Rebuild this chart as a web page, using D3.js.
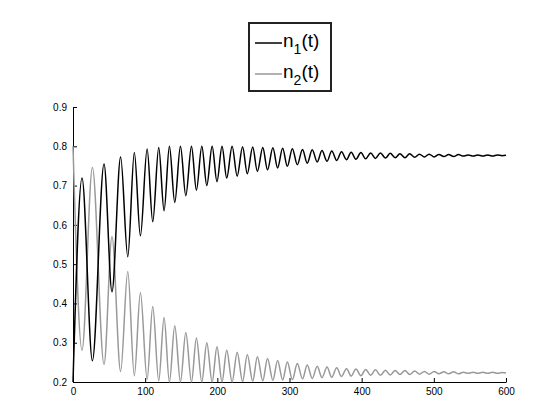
<!DOCTYPE html>
<html>
<head>
<meta charset="utf-8">
<style>
body { margin: 0; background: white; }
text { font-family: "Liberation Sans", Arial, sans-serif; }
.axis path, .axis line { stroke: black; stroke-width: 1px; }
.axis text { font-size: 10px; fill: black; }
.series { fill: none; stroke-width: 1.5px; }
</style>
</head>
<body>
<script src="https://cdn.jsdelivr.net/npm/d3@7"></script>
<script>
// time of each peak / trough
var times = [0, 12.5, 26.9, 43, 54, 66, 75.9, 85, 93.4, 102.7, 110.5, 118.8, 126.2, 133.6, 141,
  148.9, 156.3, 164.2, 171, 178.5, 185.4, 192.8, 199.5, 206.5, 213, 220.5, 227.5, 235, 241.5,
  249, 255.5, 263, 269.5, 277, 283.5, 290.5, 297, 304, 310.8, 318, 324.6, 331.5, 338.4, 345,
  352, 358.5, 365.5, 372, 379, 385.5, 392, 399, 405.5, 412.5, 419, 426, 433, 439.5, 446.5,
  453, 460, 466.5, 473.5, 480, 487, 493.5, 500.5, 507, 514, 520.5, 527.5, 534, 541, 547.5,
  554.5, 561, 568, 574.5, 581.5, 588, 594.5, 600];

var n1 = [0.20, 0.719, 0.254, 0.755, 0.430, 0.773, 0.519, 0.784, 0.572, 0.793, 0.608, 0.797, 0.636,
  0.800, 0.657, 0.800, 0.674, 0.800, 0.688, 0.800, 0.700, 0.800, 0.710, 0.800, 0.719, 0.800,
  0.724, 0.799, 0.730, 0.798, 0.736, 0.797, 0.740, 0.796, 0.745, 0.795, 0.749, 0.794, 0.753,
  0.792, 0.757, 0.791, 0.760, 0.789, 0.762, 0.788, 0.764, 0.786, 0.766, 0.785, 0.767, 0.784,
  0.768, 0.783, 0.769, 0.783, 0.770, 0.782, 0.771, 0.781, 0.771, 0.781, 0.772, 0.780, 0.773,
  0.780, 0.773, 0.779, 0.774, 0.779, 0.774, 0.779, 0.775, 0.778, 0.775, 0.778, 0.775, 0.778,
  0.775, 0.778, 0.776, 0.777];

var n2 = [0.80, 0.281, 0.746, 0.245, 0.570, 0.227, 0.481, 0.216, 0.428, 0.207, 0.392, 0.203, 0.364,
  0.200, 0.343, 0.200, 0.326, 0.200, 0.312, 0.200, 0.300, 0.200, 0.290, 0.200, 0.281, 0.200,
  0.276, 0.201, 0.270, 0.202, 0.264, 0.203, 0.260, 0.204, 0.255, 0.205, 0.251, 0.206, 0.247,
  0.208, 0.243, 0.209, 0.240, 0.211, 0.238, 0.212, 0.236, 0.214, 0.234, 0.215, 0.233, 0.216,
  0.232, 0.217, 0.231, 0.217, 0.230, 0.218, 0.229, 0.219, 0.229, 0.219, 0.228, 0.220, 0.227,
  0.220, 0.227, 0.221, 0.226, 0.221, 0.226, 0.221, 0.225, 0.222, 0.225, 0.222, 0.225, 0.222,
  0.225, 0.222, 0.224, 0.223];

var xTicks = [0, 100, 200, 300, 400, 500, 600];
var yTicks = [0.2, 0.3, 0.4, 0.5, 0.6, 0.7, 0.8, 0.9];
var legendLabels = [["n", "1", "(t)"], ["n", "2", "(t)"]];
var colors = ["#000000", "#999999"];

var width = 560, height = 420;
var margin = {top: 107, right: 54, bottom: 38, left: 73};

var svg = d3.select("body").append("svg")
    .attr("width", width)
    .attr("height", height);

var x = d3.scaleLinear().domain([0, 600]).range([margin.left, width - margin.right]);
var y = d3.scaleLinear().domain([0.2, 0.9]).range([height - margin.bottom, margin.top]);

// axes, ticks pointing inward like matlab
svg.append("g")
    .attr("class", "axis")
    .attr("transform", "translate(0," + (height - margin.bottom) + ")")
    .call(d3.axisBottom(x).tickValues(xTicks).tickSizeInner(-4).tickSizeOuter(0).tickPadding(6));

svg.append("g")
    .attr("class", "axis")
    .attr("transform", "translate(" + margin.left + ",0)")
    .call(d3.axisLeft(y).tickValues(yTicks).tickFormat(d3.format(".1f")).tickSizeInner(-4).tickSizeOuter(0).tickPadding(6));

var line = d3.line()
    .x(function(d) { return x(d[0]); })
    .y(function(d) { return y(d[1]); })
    .curve(d3.curveMonotoneX);

[n2, n1].forEach(function(vals) {
  var i = vals === n1 ? 0 : 1;
  svg.append("path")
    .attr("class", "series")
    .attr("d", line(d3.zip(times, vals)))
    .attr("stroke", colors[i]);
});

// legend
var lg = svg.append("g").attr("transform", "translate(249,23)");
lg.append("rect")
    .attr("width", 82).attr("height", 68)
    .attr("fill", "white").attr("stroke", "#222").attr("stroke-width", 2);

legendLabels.forEach(function(lab, i) {
  var yy = 20 + i * 31;
  lg.append("line")
    .attr("x1", 6).attr("x2", 33)
    .attr("y1", yy).attr("y2", yy)
    .attr("stroke", colors[i]).attr("stroke-width", 1.5);
  var t = lg.append("text").attr("x", 34).attr("y", yy + 4).style("font-size", "19px");
  t.append("tspan").text(lab[0]);
  t.append("tspan").attr("dy", 7).style("font-size", "14px").text(lab[1]);
  t.append("tspan").attr("dy", -7).text(lab[2]);
});
</script>
</body>
</html>
